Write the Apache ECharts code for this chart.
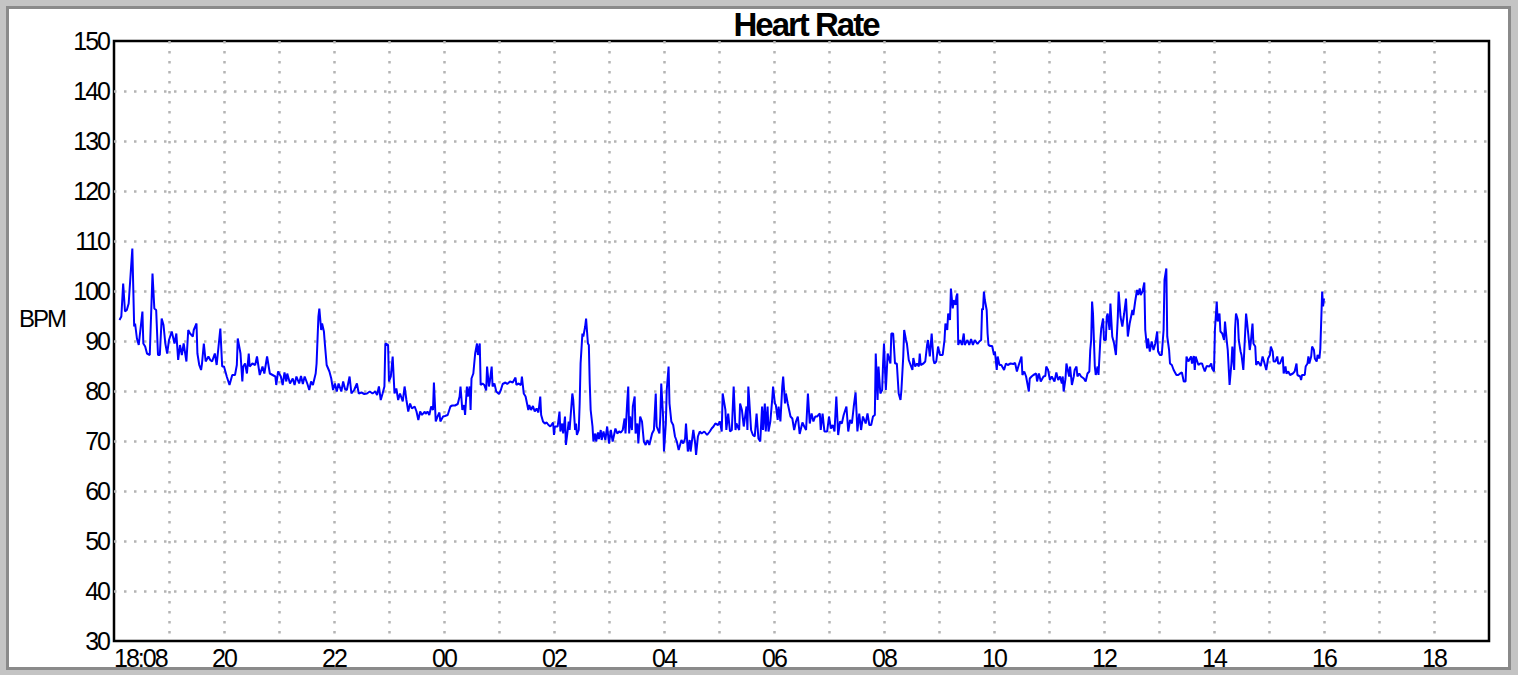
<!DOCTYPE html>
<html><head><meta charset="utf-8">
<style>
html,body{margin:0;padding:0;background:#fff;}
#chart{width:1518px;height:675px;}
#chart text{letter-spacing:-2px;}
</style>
<script src="https://cdn.jsdelivr.net/npm/echarts@6/dist/echarts.min.js"></script>
</head><body><div id="chart"></div>
<script>
// ---- data (minutes after 18:00, heart rate in BPM) ----
const chartTitle = 'Heart Rate';
const yAxisTitle = 'BPM';
const startLabel = '18:08';
const axisStartHour = 18;
const xMinMinutes = 0, xMaxMinutes = 1500, xStepMinutes = 60;
const yMin = 30, yMax = 150, yStep = 10;

const minutes = [
 6,8,10,12,14,16,20,22,23,25,27,28,31,32,34,36,39,42,44,46,48,50,52,54,56,58,60,63,66,68,70,72,74,76,79,81,83,86,87,90,91,93,95,96,98,100,103,105,107,110,112,116,118,120,123,126,129,132,134,135,138,140,141,143,145,147,148,151,154,156,159,162,164,167,170,
 173,176,177,179,182,184,186,188,189,192,195,197,199,202,204,206,208,211,213,215,217,220,221,223,224,226,227,229,230,232,235,237,239,241,243,245,248,250,252,254,257,259,262,265,267,270,273,276,279,282,285,287,289,291,293,295,296,299,300,302,304,306,308,310,312,315,317,319,321,323,325,328,330,332,334,336,339,
 340,342,344,346,348,349,351,353,355,356,359,361,364,367,369,372,375,377,378,380,382,383,385,386,388,389,390,392,394,396,397,399,400,402,404,406,407,409,410,412,413,415,417,420,422,424,427,429,432,435,438,439,441,444,445,447,449,452,453,455,457,459,461,463,465,466,468,470,472,474,476,479,480,481,484,486,487,489,490,492,493,495,496,497,500,501,503,504,505,507,
 508,509,511,512,514,515,517,518,519,520,522,523,525,526,528,529,531,532,534,536,538,540,542,544,547,549,551,553,555,557,558,560,561,562,563,565,566,568,569,571,572,574,576,578,580,582,584,587,589,591,592,595,596,597,599,600,602,603,605,606,608,610,612,614,616,619,621,623,624,626,628,629,632,634,635,637,639,641,644,647,650,652,654,656,659,661,663,664,667,668,670,672,674,
 676,678,679,682,683,685,687,688,690,691,692,693,695,697,699,701,703,705,707,708,710,711,713,714,716,718,719,721,722,724,725,727,729,730,732,733,735,738,740,742,744,746,748,751,753,755,757,759,761,763,765,767,770,771,773,775,778,780,782,784,786,788,790,792,794,796,799,801,803,805,807,809,811,813,815,817,820,822,824,826,828,830,831,833,834,836,838,839,840,842,844,847,
 848,850,852,854,856,858,859,861,862,864,865,867,869,871,872,874,876,878,879,880,883,885,887,888,890,892,894,895,897,899,901,904,906,907,909,910,912,913,915,916,918,919,920,921,923,925,927,928,931,933,935,937,939,942,944,946,947,948,949,950,952,953,954,956,958,960,961,963,964,966,968,971,973,975,978,981,983,985,987,990,991,993,995,998,999,1001,1003,1006,1007,1009,1011,1014,1016,
 1017,1019,1021,1023,1026,1028,1030,1032,1034,1035,1036,1038,1039,1042,1043,1045,1047,1048,1050,1051,1053,1055,1058,1060,1062,1064,1065,1066,1067,1068,1070,1071,1073,1074,1076,1077,1079,1080,1082,1083,1084,1086,1087,1089,1091,1093,1095,1096,1098,1100,1102,1104,1106,1108,1111,1112,1114,1116,1117,1119,1120,1122,1124,1125,1127,1128,1130,1132,1134,1136,1138,1139,1141,1143,1145,1146,1148,1149,1151,1152,1154,1156,1159,1161,1163,1165,1167,1169,1170,1172,1175,1176,1178,1179,1180,1183,1185,
 1187,1188,1190,1192,1195,1197,1198,1200,1201,1203,1204,1206,1207,1209,1211,1212,1214,1215,1217,1219,1220,1222,1223,1224,1226,1227,1229,1230,1232,1235,1236,1238,1239,1240,1242,1243,1245,1246,1248,1251,1253,1255,1257,1259,1261,1262,1264,1265,1267,1269,1270,1272,1275,1276,1278,1279,1281,1283,1286,1288,1290,1291,1294,1295,1296,1299,1300,1302,1303,1304,1306,1307,1309,1310,1312,1313,1315,1316,1318,1319,1320
];

const bpm = [
 94.2,94.9,101.5,95.9,96.2,97.5,108.5,92.9,93.5,90.5,89.2,90.9,95.9,89.5,88.9,87.5,87.2,103.5,96.5,96.2,87.2,87.2,94.5,93.2,89.5,87.5,90.2,91.9,89.5,91.5,86.2,89.2,87.2,89.5,85.9,92.2,91.5,90.9,92.2,93.5,87.5,85.2,84.2,85.5,89.5,85.9,86.9,86.2,85.9,87.5,85.2,92.5,84.9,84.9,82.9,81.2,83.2,83.2,85.2,90.5,87.5,81.9,84.9,85.5,83.5,87.5,84.9,85.5,85.2,86.9,83.2,84.9,83.5,86.9,83.5,
 83.2,82.9,81.2,83.9,82.9,81.2,83.7,81.9,83.5,81.5,82.5,81.2,82.9,81.5,83.0,81.4,82.9,81.4,80.2,81.9,81.2,83.5,85.5,94.9,96.5,92.2,93.5,91.9,89.5,85.2,83.9,82.5,80.2,81.5,79.9,81.5,79.9,81.9,80.4,80.2,82.9,79.5,80.2,81.5,79.5,79.7,79.4,79.5,79.9,79.5,79.9,79.2,80.9,78.2,79.5,80.9,89.5,89.2,81.9,82.9,86.9,79.5,80.5,78.2,79.5,77.9,80.9,78.2,75.9,77.5,76.5,76.9,75.9,74.2,75.9,75.2,75.9,
 75.4,75.9,75.2,76.9,76.2,81.7,73.9,74.9,75.7,73.9,74.9,75.0,75.2,76.9,77.1,77.1,77.4,78.9,80.9,76.2,77.2,75.2,80.9,78.9,80.9,76.2,82.5,83.5,87.5,89.5,87.2,89.5,81.2,81.5,81.2,80.1,84.9,80.9,81.9,84.9,80.9,81.5,79.9,79.4,80.2,81.4,81.7,81.4,81.9,81.7,82.7,81.2,81.5,81.2,82.9,79.5,78.9,76.2,77.2,76.2,77.0,75.9,76.5,75.7,78.9,75.2,73.9,73.5,73.7,73.2,72.9,73.7,71.2,72.9,72.9,75.9,71.9,73.5,71.5,74.9,69.2,72.2,73.9,72.2,79.5,78.2,72.2,73.5,71.2,72.2,
 77.5,85.5,91.5,90.9,92.9,94.5,89.5,89.2,81.5,76.2,72.9,69.9,71.5,69.9,71.7,70.4,72.2,70.2,71.9,70.2,72.9,69.5,72.2,69.9,72.5,71.5,71.9,71.7,72.2,74.5,71.5,78.2,80.9,71.5,74.9,72.2,76.9,78.9,71.5,73.5,69.5,74.9,73.9,69.9,69.2,70.2,69.2,71.5,72.2,79.5,72.9,71.5,74.9,81.5,74.9,67.9,73.5,80.2,84.9,77.5,73.9,73.2,70.9,69.9,68.2,70.2,69.5,70.5,73.5,67.9,70.2,67.9,72.2,69.5,67.2,70.9,71.9,71.5,71.9,71.2,71.9,72.5,72.9,73.5,73.2,73.9,71.9,79.5,76.2,72.2,75.5,71.9,72.2,
 80.9,72.2,73.5,72.2,77.5,76.2,72.9,74.2,76.9,72.2,80.9,78.2,72.2,71.2,70.9,75.5,70.5,69.9,76.9,72.2,77.5,71.9,76.9,71.9,73.9,78.2,80.9,77.5,77.2,74.2,76.9,73.9,80.9,82.9,77.5,79.5,77.5,74.9,74.5,72.2,73.9,74.9,71.4,73.7,72.9,72.2,79.5,73.5,75.5,73.9,74.9,74.9,75.5,72.2,75.5,71.9,71.9,74.9,72.5,73.2,71.9,78.9,71.2,73.9,73.5,75.2,76.9,71.9,74.2,73.5,76.9,79.7,71.9,75.5,72.2,74.9,73.5,75.5,73.2,73.2,74.9,75.2,87.5,78.2,84.9,79.5,80.2,85.5,89.5,80.2,87.5,85.5,
 91.5,91.5,85.5,85.5,79.5,78.2,80.2,86.9,92.2,90.2,89.5,86.2,85.2,84.2,86.6,84.9,85.5,84.9,87.5,85.2,85.5,85.9,89.2,90.2,86.9,91.5,86.2,85.5,85.9,88.9,87.2,87.2,90.2,93.5,92.2,95.5,94.2,100.5,96.5,98.2,97.2,98.9,99.5,89.2,90.2,89.2,91.5,89.2,90.2,89.2,90.4,89.2,90.2,89.4,89.9,90.2,96.5,96.2,99.9,98.2,96.2,91.5,89.2,89.0,89.0,87.2,87.9,84.2,86.9,85.2,85.2,84.2,85.5,85.2,85.5,85.4,85.6,83.9,85.2,86.9,83.2,83.9,82.9,79.9,82.5,82.9,83.2,83.5,81.9,83.5,81.9,82.9,83.0,
 84.9,84.2,82.2,82.9,81.9,83.7,82.2,82.9,81.5,82.9,79.9,82.5,85.5,82.9,84.9,81.2,82.9,84.2,84.9,82.9,83.5,82.9,82.5,81.9,83.5,83.9,88.2,90.2,97.9,95.5,84.9,83.2,84.9,83.2,90.2,92.5,94.5,90.2,90.2,94.9,95.5,92.2,97.5,90.9,89.5,87.2,94.5,99.9,94.9,92.9,95.5,98.5,90.9,93.5,96.2,95.2,97.9,100.2,99.2,100.5,99.2,99.9,101.7,92.2,88.5,90.5,87.9,89.9,88.2,89.5,91.9,87.9,87.2,87.2,92.2,102.2,104.5,90.9,88.2,85.5,85.2,84.2,83.2,83.2,83.5,83.7,81.9,81.9,86.9,85.9,86.9,85.5,87.0,84.2,86.9,85.2,85.5,
 85.5,84.9,83.9,85.0,84.9,85.5,84.5,83.9,92.2,97.9,93.9,95.5,91.9,91.5,90.2,93.9,89.9,88.2,81.2,85.5,88.9,84.2,92.5,95.5,94.2,90.2,87.9,87.2,84.2,95.5,93.9,90.2,88.2,89.5,93.5,89.5,88.9,85.2,85.9,85.0,86.9,85.6,84.2,86.5,87.2,88.9,87.9,85.9,85.9,86.9,85.5,85.5,86.9,83.5,84.9,83.5,83.9,83.2,83.5,83.9,85.5,83.2,82.9,82.2,83.2,83.2,84.9,85.5,86.9,85.5,86.9,88.9,88.2,86.5,85.9,87.2,86.5,88.5,99.9,96.9,98.5
];

// ---- chart ----
const FONT = "'Liberation Sans', Arial, sans-serif";
const seriesData = minutes.map((m, i) => [m, bpm[i]]);

function xLabel(v) {
  if (v === xMinMinutes) return startLabel;
  const h = v / 60;
  if (h % 2 !== 0) return '';
  return String((axisStartHour + h) % 24).padStart(2, '0');
}

const gridLine = { color: '#b4b4b4', width: 2.5, type: [2.5, 7.5] };

const chart = echarts.init(document.getElementById('chart'), null, { renderer: 'svg' });
chart.setOption({
  animation: false,
  backgroundColor: '#c4c4c4',
  title: {
    text: chartTitle,
    left: 801,
    top: 2,
    textAlign: 'center',
    textStyle: { fontFamily: FONT, fontSize: 33, fontWeight: 'bold', color: '#000', lineHeight: 35 }
  },
  graphic: [
    { type: 'rect', z: -10, silent: true,
      shape: { x: 7.5, y: 7.5, width: 1502, height: 661 },
      style: { fill: '#ffffff', stroke: '#8a8a8a', lineWidth: 3 } },
    { type: 'text', z: 10, silent: true, left: 19, top: 306,
      style: { text: yAxisTitle, fontFamily: FONT, fontSize: 24, fill: '#000' } }
  ],
  grid: {
    left: 114, right: 29, top: 41, bottom: 34,
    show: true, borderColor: '#000', borderWidth: 2.5, backgroundColor: 'transparent'
  },
  xAxis: {
    type: 'value', min: xMinMinutes, max: xMaxMinutes, interval: xStepMinutes,
    axisLine: { show: false }, axisTick: { show: false },
    axisLabel: { formatter: xLabel, fontFamily: FONT, fontSize: 25, color: '#000', margin: 4,
                 alignMinLabel: 'left', showMinLabel: true, showMaxLabel: true },
    splitLine: { show: true, showMinLine: false, showMaxLine: false, lineStyle: gridLine }
  },
  yAxis: {
    type: 'value', min: yMin, max: yMax, interval: yStep,
    axisLine: { show: false }, axisTick: { show: false },
    axisLabel: { fontFamily: FONT, fontSize: 25, color: '#000', margin: 5, padding: [7, 0, 0, 0] },
    splitLine: { show: true, showMinLine: false, showMaxLine: false, lineStyle: gridLine }
  },
  series: [{
    type: 'line', data: seriesData, showSymbol: false, symbol: 'none',
    lineStyle: { color: '#0000ff', width: 2 }, itemStyle: { color: '#0000ff' }
  }]
});
</script>
</body></html>
